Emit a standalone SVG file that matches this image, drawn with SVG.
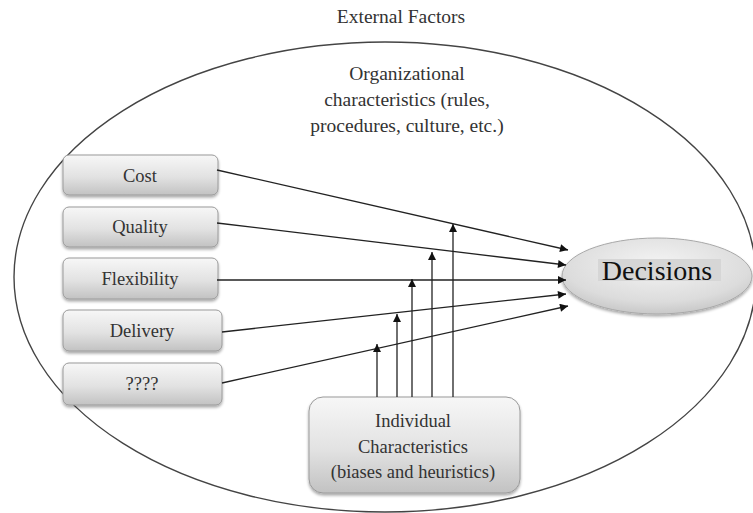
<svg xmlns="http://www.w3.org/2000/svg" width="753" height="513" viewBox="0 0 753 513">
  <defs>
    <linearGradient id="boxFill" x1="0" y1="0" x2="0" y2="1">
      <stop offset="0" stop-color="#f7f7f7"/>
      <stop offset="0.55" stop-color="#e2e2e2"/>
      <stop offset="1" stop-color="#c2c2c2"/>
    </linearGradient>
    <radialGradient id="ovalFill" cx="0.5" cy="0.35" r="0.7">
      <stop offset="0" stop-color="#f4f4f4"/>
      <stop offset="0.7" stop-color="#dcdcdc"/>
      <stop offset="1" stop-color="#c2c2c2"/>
    </radialGradient>
    <filter id="shadow" x="-10%" y="-20%" width="120%" height="150%">
      <feGaussianBlur in="SourceAlpha" stdDeviation="1.6"/>
      <feOffset dx="0" dy="2" result="b"/>
      <feComponentTransfer><feFuncA type="linear" slope="0.35"/></feComponentTransfer>
      <feMerge><feMergeNode/><feMergeNode in="SourceGraphic"/></feMerge>
    </filter>
    <marker id="arrow" viewBox="0 0 10 10" refX="10" refY="5" markerWidth="10" markerHeight="8" markerUnits="userSpaceOnUse" orient="auto">
      <path d="M0,0 L10,5 L0,10 z" fill="#111"/>
    </marker>
  </defs>
  <style>
    text { font-family: 'Liberation Serif', 'Times New Roman', serif; }
    .box { fill: url(#boxFill); stroke: #9a9a9a; stroke-width: 1; filter: url(#shadow); }
    .lbl { font-size: 18.5px; fill: #333; text-anchor: middle; }
    .top { font-size: 19.5px; fill: #333; text-anchor: middle; }
    .big { font-size: 28px; fill: #111; text-anchor: middle; }
    .edge { stroke: #222; stroke-width: 1.3; fill: none; marker-end: url(#arrow); }
  </style>

  <rect width="753" height="513" fill="#ffffff"/>

  <g id="external-factors">
    <ellipse cx="385" cy="277" rx="371" ry="235" fill="none" stroke="#444" stroke-width="1.4"/>
    <text class="top" x="401" y="23">External Factors</text>
  </g>

  <g id="organizational">
    <text class="top" x="407" y="80">Organizational</text>
    <text class="top" x="407" y="106">characteristics (rules,</text>
    <text class="top" x="407" y="132">procedures, culture, etc.)</text>
  </g>

  <g id="cost">
    <rect class="box" x="63" y="155" width="155" height="40" rx="6"/>
    <text class="lbl" x="140" y="182">Cost</text>
  </g>
  <g id="quality">
    <rect class="box" x="63" y="207" width="155" height="40" rx="6"/>
    <text class="lbl" x="140" y="233">Quality</text>
  </g>
  <g id="flexibility">
    <rect class="box" x="63" y="258" width="155" height="41" rx="6"/>
    <text class="lbl" x="140" y="285">Flexibility</text>
  </g>
  <g id="delivery">
    <rect class="box" x="63" y="310" width="159" height="41" rx="6"/>
    <text class="lbl" x="142" y="337">Delivery</text>
  </g>
  <g id="unknown">
    <rect class="box" x="63" y="363" width="159" height="42" rx="6"/>
    <text class="lbl" x="142" y="390">????</text>
  </g>

  <g id="individual">
    <rect class="box" x="309" y="397" width="211" height="96" rx="14"/>
    <text class="lbl" x="413" y="427">Individual</text>
    <text class="lbl" x="413" y="453">Characteristics</text>
    <text class="lbl" x="413" y="478">(biases and heuristics)</text>
  </g>

  <g id="decisions">
    <ellipse cx="657" cy="276" rx="95" ry="38" fill="url(#ovalFill)" stroke="#a8a8a8" stroke-width="1" filter="url(#shadow)"/>
    <rect x="598" y="259" width="123" height="22" fill="#d6d6d6"/>
    <text class="big" x="657" y="280">Decisions</text>
  </g>

  <g id="connectors">
    <line class="edge" x1="217" y1="170" x2="568" y2="250"/>
    <line class="edge" x1="217" y1="223" x2="566" y2="265"/>
    <line class="edge" x1="217" y1="280" x2="566" y2="280"/>
    <line class="edge" x1="222" y1="332" x2="566" y2="294"/>
    <line class="edge" x1="222" y1="383" x2="568" y2="306"/>
    <line class="edge" x1="377" y1="397" x2="377" y2="344"/>
    <line class="edge" x1="397" y1="397" x2="397" y2="314"/>
    <line class="edge" x1="412" y1="397" x2="412" y2="279"/>
    <line class="edge" x1="432" y1="397" x2="432" y2="252"/>
    <line class="edge" x1="453" y1="397" x2="453" y2="224"/>
  </g>
</svg>
